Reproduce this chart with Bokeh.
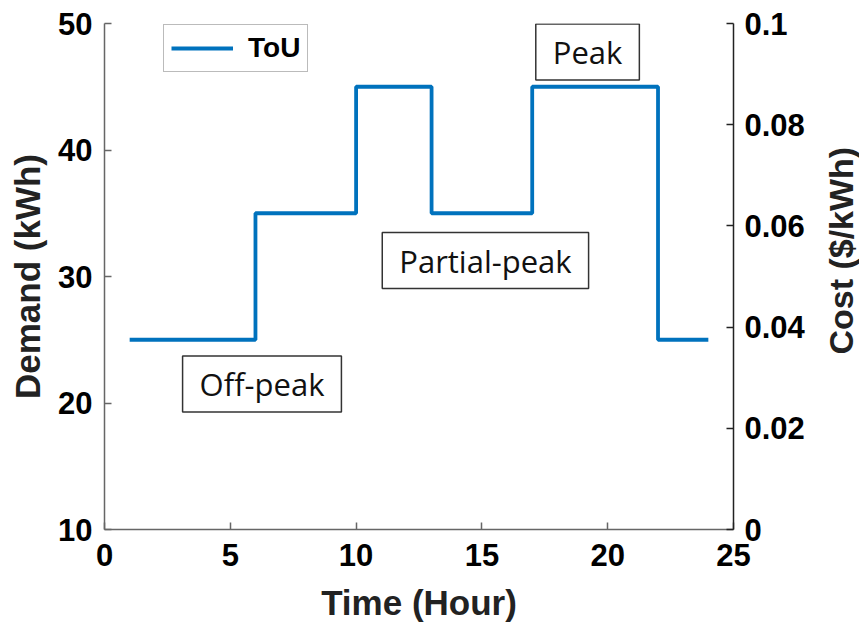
import math

from bokeh.plotting import figure
from bokeh.layouts import row
from bokeh.models import Range1d, LinearAxis, FixedTicker, Label, Legend, LegendItem
from bokeh.core.properties import value
from bokeh.embed import file_html
from bokeh.resources import INLINE

# Time-of-use tariff profile (hour at which each level starts, demand level)
hours = [1, 6, 10, 13, 17, 22, 24]
demand = [25, 35, 45, 35, 45, 25, 25]

x_ticks = [0, 5, 10, 15, 20, 25]
demand_ticks = [10, 20, 30, 40, 50]
cost_ticks = [0, 0.02, 0.04, 0.06, 0.08, 0.1]
cost_labels = ["0", "0.02", "0.04", "0.06", "0.08", "0.1"]

# Period annotations: text, centre hour, centre demand
period_names = ["Off-peak", "Partial-peak", "Peak"]
period_x = [6.26, 15.14, 19.2]
period_y = [21.5, 31.26, 47.75]

BLUE = "#0072BD"
TICK_FONT = "Liberation Sans"

p = figure(
    width=813, height=628,
    x_range=Range1d(0, 25), y_range=Range1d(10, 50),
    output_backend="svg", toolbar_location=None,
    min_border_left=104, min_border_right=80,
    min_border_top=23, min_border_bottom=99,
)
p.background_fill_color = "white"
p.border_fill_color = "white"
p.outline_line_color = None
p.xgrid.grid_line_color = None
p.ygrid.grid_line_color = None

p.extra_y_ranges = {"cost": Range1d(0, 0.1)}

line = p.step(hours, demand, mode="after", line_color=BLUE, line_width=3.8)


def style_axis(ax, line_color):
    ax.axis_line_color = line_color
    ax.axis_line_width = 1.5
    ax.major_tick_line_color = line_color
    ax.major_tick_line_width = 1.5
    ax.major_tick_in = 7
    ax.major_tick_out = 0
    ax.minor_tick_line_color = None
    ax.major_label_text_font = TICK_FONT
    ax.major_label_text_font_style = "bold"
    ax.major_label_text_font_size = "31px"
    ax.major_label_text_color = "black"
    ax.axis_label_text_font = TICK_FONT
    ax.axis_label_text_font_style = "bold"
    ax.axis_label_text_font_size = "35px"
    ax.axis_label_text_color = "#222222"


xa = p.xaxis[0]
style_axis(xa, "#666666")
xa.ticker = FixedTicker(ticks=x_ticks)
xa.axis_label = "Time (Hour)"
xa.major_label_standoff = 14
xa.axis_label_standoff = 14

ya = p.yaxis[0]
style_axis(ya, "#666666")
ya.ticker = FixedTicker(ticks=demand_ticks)
ya.axis_label = "Demand (kWh)"
ya.major_label_standoff = 12
ya.axis_label_standoff = 8

ra = LinearAxis(y_range_name="cost")
style_axis(ra, "#222222")
ra.ticker = FixedTicker(ticks=cost_ticks)
ra.major_label_overrides = {t: s for t, s in zip(cost_ticks, cost_labels)}
ra.major_label_standoff = 11
p.add_layout(ra, "right")

for name, cx, cy in zip(period_names, period_x, period_y):
    p.add_layout(Label(
        x=cx, y=cy, text=name,
        text_align="center", text_baseline="middle",
        text_font="Open Sans", text_font_size="31px", text_color="#111111",
        border_line_color="#333333", border_line_width=1.5,
        background_fill_color="white",
        padding=dict(left=17, right=17, top=7, bottom=7),
    ))

legend = Legend(
    items=[LegendItem(label="ToU", renderers=[line])],
    location=(59, 457),
    label_text_font=TICK_FONT, label_text_font_style="bold",
    label_text_font_size="28px", label_text_color="black",
    glyph_width=62, glyph_height=20, label_standoff=15,
    padding=7, margin=0, spacing=0,
    border_line_color="#777777", border_line_width=1.5,
    background_fill_color="white",
)
p.add_layout(legend)

# Narrow strip beside the plot carrying the right-hand axis title, read bottom to top
side = figure(
    width=46, height=628,
    x_range=Range1d(0, 1), y_range=Range1d(0, 1),
    output_backend="svg", toolbar_location=None,
    min_border=0,
)
side.axis.visible = False
side.grid.visible = False
side.outline_line_color = None
side.background_fill_color = "white"
side.border_fill_color = "white"
side.text(
    x=[0.6], y=[0.551], text=["Cost ($/kWh)"], angle=math.pi / 2,
    text_align="center", text_baseline="middle",
    text_font=value(TICK_FONT), text_font_style="bold",
    text_font_size="34px", text_color="#222222",
)

layout = row(p, side, spacing=0)

open("out.html", "w").write(file_html(layout, INLINE))
